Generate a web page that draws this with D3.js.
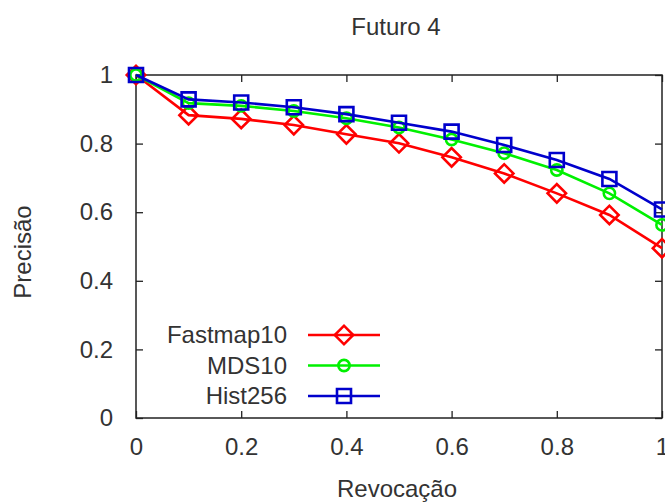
<!DOCTYPE html>
<html>
<head>
<meta charset="utf-8">
<script src="https://cdn.jsdelivr.net/npm/d3@7"></script>
<style>
  html, body { margin: 0; padding: 0; background: #fff; }
  svg { display: block; }
</style>
</head>
<body>
<svg id="chart" width="665" height="502"></svg>
<script>
// Precision-recall curves for three descriptors
const recall    = [0, 0.1, 0.2, 0.3, 0.4, 0.5, 0.6, 0.7, 0.8, 0.9, 1.0];
const fastmap10 = [1.0, 0.883, 0.872, 0.854, 0.827, 0.801, 0.760, 0.713, 0.655, 0.592, 0.495];
const mds10     = [1.0, 0.918, 0.910, 0.895, 0.874, 0.847, 0.812, 0.772, 0.723, 0.655, 0.563];
const hist256   = [1.0, 0.929, 0.920, 0.906, 0.886, 0.861, 0.835, 0.796, 0.752, 0.697, 0.608];
const seriesNames = ["Fastmap10", "MDS10", "Hist256"];
const xTicks = [0, 0.2, 0.4, 0.6, 0.8, 1];
const yTicks = [0, 0.2, 0.4, 0.6, 0.8, 1];
const xTickLabels = ["0", "0.2", "0.4", "0.6", "0.8", "1"];
const yTickLabels = ["0", "0.2", "0.4", "0.6", "0.8", "1"];

const FONT = "'Liberation Sans', Arial, Helvetica, sans-serif";
const TEXT = "#333";

const svg = d3.select("#chart");
const plotLeft = 136, plotRight = 662, plotTop = 75, plotBottom = 418;

const x = d3.scaleLinear().domain([0, 1]).range([plotLeft, plotRight]);
const y = d3.scaleLinear().domain([0, 1]).range([plotBottom, plotTop]);

const series = [
  { name: seriesNames[0], values: fastmap10, color: "#ff0000", shape: "diamond" },
  { name: seriesNames[1], values: mds10,     color: "#00f000", shape: "circle" },
  { name: seriesNames[2], values: hist256,   color: "#0000cc", shape: "square" }
];

function symbolPath(shape) {
  if (shape === "circle") return d3.symbol(d3.symbolCircle, 100)();
  if (shape === "square") return d3.symbol(d3.symbolSquare, 196)();
  return d3.symbol(d3.symbolSquare, 170)();
}
function symbolRotate(shape) { return shape === "diamond" ? " rotate(45)" : ""; }

// Axes (ticks point inward, mirrored on top and right)
const tick = 7;
const gx = svg.append("g").attr("transform", `translate(0,${plotBottom})`)
  .call(d3.axisBottom(x).tickValues(xTicks).tickSizeInner(-tick).tickSizeOuter(0)
    .tickPadding(20).tickFormat((d, i) => xTickLabels[i]));
const gy = svg.append("g").attr("transform", `translate(${plotLeft},0)`)
  .call(d3.axisLeft(y).tickValues(yTicks).tickSizeInner(-tick).tickSizeOuter(0)
    .tickPadding(23).tickFormat((d, i) => yTickLabels[i]));
const gxt = svg.append("g").attr("transform", `translate(0,${plotTop})`)
  .call(d3.axisTop(x).tickValues(xTicks).tickSizeInner(-tick).tickSizeOuter(0).tickFormat(""));
const gyr = svg.append("g").attr("transform", `translate(${plotRight},0)`)
  .call(d3.axisRight(y).tickValues(yTicks).tickSizeInner(-tick).tickSizeOuter(0).tickFormat(""));

[gx, gy, gxt, gyr].forEach(g => {
  g.select(".domain").remove();
  g.attr("font-family", FONT).attr("font-size", 24);
  g.selectAll(".tick line").attr("stroke", "#222").attr("stroke-width", 1.3);
  g.selectAll(".tick text").attr("fill", TEXT);
});

// Plot border
svg.append("rect")
  .attr("x", plotLeft).attr("y", plotTop)
  .attr("width", plotRight - plotLeft).attr("height", plotBottom - plotTop)
  .attr("fill", "none").attr("stroke", "#222").attr("stroke-width", 1.5);

// Lines and markers
const line = d3.line().x((d, i) => x(recall[i])).y(d => y(d));
series.forEach(s => {
  const g = svg.append("g");
  g.append("path").datum(s.values)
    .attr("d", line).attr("fill", "none")
    .attr("stroke", s.color).attr("stroke-width", 2.6);
  g.selectAll("path.mark").data(s.values).join("path")
    .attr("class", "mark")
    .attr("d", symbolPath(s.shape))
    .attr("transform", (d, i) => `translate(${x(recall[i])},${y(d)})${symbolRotate(s.shape)}`)
    .attr("fill", "none").attr("stroke", s.color).attr("stroke-width", 2.6);
});

// Legend
const legendRows = [335, 365.5, 396];
series.forEach((s, i) => {
  const ly = legendRows[i];
  svg.append("text")
    .attr("x", 287).attr("y", ly).attr("dy", "0.35em")
    .attr("text-anchor", "end")
    .attr("font-family", FONT).attr("font-size", 24).attr("fill", TEXT)
    .text(s.name);
  svg.append("line")
    .attr("x1", 308).attr("x2", 380).attr("y1", ly).attr("y2", ly)
    .attr("stroke", s.color).attr("stroke-width", 2.6);
  svg.append("path")
    .attr("d", symbolPath(s.shape))
    .attr("transform", `translate(344,${ly})${symbolRotate(s.shape)}`)
    .attr("fill", "none").attr("stroke", s.color).attr("stroke-width", 2.6);
});

// Titles
svg.append("text")
  .attr("x", 396).attr("y", 35).attr("text-anchor", "middle")
  .attr("font-family", FONT).attr("font-size", 24).attr("fill", TEXT)
  .text("Futuro 4");
svg.append("text")
  .attr("x", 397).attr("y", 497).attr("text-anchor", "middle")
  .attr("font-family", FONT).attr("font-size", 24).attr("fill", TEXT)
  .text("Revocação");
svg.append("text")
  .attr("transform", "translate(31,252) rotate(-90)")
  .attr("text-anchor", "middle")
  .attr("font-family", FONT).attr("font-size", 24).attr("fill", TEXT)
  .text("Precisão");
</script>
</body>
</html>
